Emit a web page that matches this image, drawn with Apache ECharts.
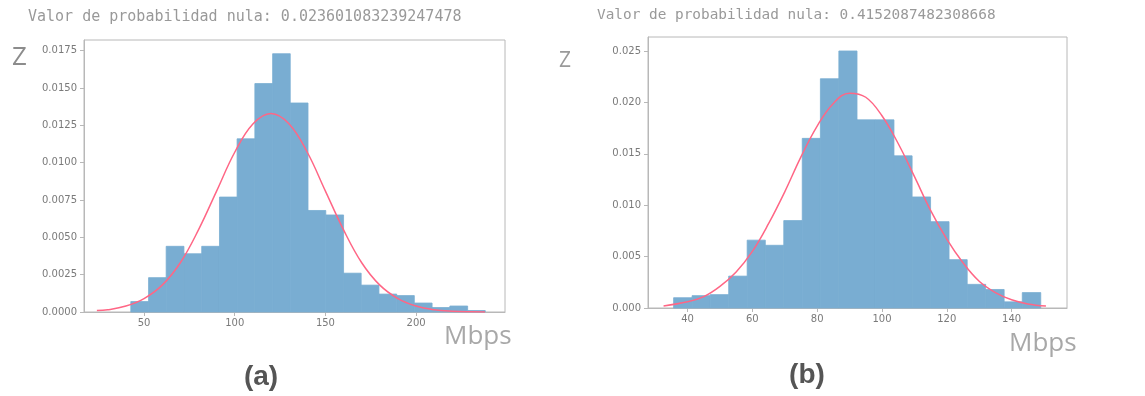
<!DOCTYPE html>
<html>
<head>
<meta charset="utf-8">
<script src="https://cdn.jsdelivr.net/npm/echarts@6/dist/echarts.min.js"></script>
<style>
  html, body { margin: 0; padding: 0; background: #fff; }
  #chart { width: 1145px; height: 396px; }
</style>
</head>
<body>
<div id="chart"></div>
<script>
// histogram (a): bin edges and density heights
var binEdgesA = [42.7, 52.5, 62.2, 72.0, 81.8, 91.6, 101.3, 111.1, 120.9, 130.6, 140.4, 150.2, 160.0, 169.7, 179.5, 189.3, 199.0, 208.8, 218.6, 228.4, 238.1];
var binHeightsA = [0.0007, 0.0023, 0.0044, 0.0039, 0.0044, 0.0077, 0.0116, 0.0153, 0.0173, 0.0140, 0.0068, 0.0065, 0.0026, 0.0018, 0.0012, 0.0011, 0.0006, 0.0003, 0.0004, 0.0001];
// fitted curve (a)
var curveAX = [24, 30, 40, 50, 60, 70, 80, 90, 100, 110, 120, 130, 140, 150, 160, 170, 180, 190, 200, 210, 220, 230, 238];
var curveAY = [0.0001, 0.00015, 0.0004, 0.0009, 0.0018, 0.0033, 0.0055, 0.0081, 0.0107, 0.0126, 0.0133, 0.0126, 0.0107, 0.0081, 0.0055, 0.0033, 0.0018, 0.0009, 0.0004, 0.00015, 0.00005, 0.00001, 0.0];

// histogram (b)
var binEdgesB = [35.7, 41.4, 47.0, 52.7, 58.4, 64.0, 69.7, 75.4, 81.0, 86.7, 92.3, 98.0, 103.7, 109.3, 115.0, 120.7, 126.3, 132.0, 137.7, 143.3, 149.0];
var binHeightsB = [0.0010, 0.0012, 0.0013, 0.0031, 0.0066, 0.0061, 0.0085, 0.0165, 0.0223, 0.0250, 0.0183, 0.0183, 0.0148, 0.0108, 0.0084, 0.0047, 0.0023, 0.0018, 0.0006, 0.0015];
var curveBX = [32.6, 40, 45, 50, 55, 60, 65, 70, 75, 80, 85, 90, 95, 100, 105, 110, 115, 120, 125, 130, 135, 140, 145, 150.6];
var curveBY = [0.0002, 0.0006, 0.0011, 0.0021, 0.0035, 0.0055, 0.0082, 0.0113, 0.0147, 0.0177, 0.0199, 0.0209, 0.0205, 0.0187, 0.0160, 0.0128, 0.0095, 0.0067, 0.0044, 0.0026, 0.0015, 0.0008, 0.0004, 0.0002];

// tick labels
var xTicksA = [50, 100, 150, 200];
var yTicksA = [0, 0.0025, 0.005, 0.0075, 0.01, 0.0125, 0.015, 0.0175];
var xTicksB = [40, 60, 80, 100, 120, 140];
var yTicksB = [0, 0.005, 0.01, 0.015, 0.02, 0.025];

var pvalA = 'Valor de probabilidad nula: 0.023601083239247478';
var pvalB = 'Valor de probabilidad nula: 0.4152087482308668';

function bins(edges, heights) {
    var out = [];
    for (var i = 0; i < heights.length; i++) out.push([edges[i], edges[i + 1], heights[i]]);
    return out;
}
function pairs(xs, ys) {
    return xs.map(function (x, i) { return [x, ys[i]]; });
}

var frame = '#b8b8b8';
var barColor = '#79add2';
var tickFont = { color: '#7a7a7a', fontSize: 10, fontFamily: 'DejaVu Sans' };

function xAxis(idx, min, max, ticks) {
    return {
        type: 'value', gridIndex: idx, min: min, max: max,
        axisLine: { show: true, onZero: false, lineStyle: { color: frame } },
        axisTick: { show: true, length: 4, customValues: ticks, lineStyle: { color: frame } },
        axisLabel: Object.assign({ margin: 6, customValues: ticks }, tickFont),
        splitLine: { show: false }
    };
}
function yAxis(idx, max, ticks, dec) {
    return {
        type: 'value', gridIndex: idx, min: 0, max: max,
        axisLine: { show: true, lineStyle: { color: frame } },
        axisTick: { show: true, length: 4, customValues: ticks, lineStyle: { color: frame } },
        axisLabel: Object.assign({ margin: 7, customValues: ticks,
            formatter: function (v) { return v.toFixed(dec); } }, tickFont),
        splitLine: { show: false }
    };
}

function histSeries(idx, data) {
    return {
        type: 'custom', xAxisIndex: idx, yAxisIndex: idx,
        data: data,
        encode: { x: [0, 1], y: 2 },
        renderItem: function (params, api) {
            var p0 = api.coord([api.value(0), 0]);
            var p1 = api.coord([api.value(1), api.value(2)]);
            // stroke in the fill colour so neighbouring bins have no seam
            return {
                type: 'rect',
                shape: { x: p0[0], y: p1[1], width: p1[0] - p0[0], height: p0[1] - p1[1] },
                style: { fill: barColor, stroke: barColor, lineWidth: 0.8 }
            };
        }
    };
}
function curveSeries(idx, data) {
    return {
        type: 'line', xAxisIndex: idx, yAxisIndex: idx,
        data: data, smooth: 0.4, showSymbol: false,
        lineStyle: { color: '#ff6685', width: 1.5 }, z: 5
    };
}

var chart = echarts.init(document.getElementById('chart'));
chart.setOption({
    animation: false,
    backgroundColor: '#fff',
    grid: [
        { left: 84, top: 40, width: 421, height: 272, show: true, borderColor: frame, borderWidth: 1 },
        { left: 648, top: 37, width: 419, height: 271, show: true, borderColor: frame, borderWidth: 1 }
    ],
    xAxis: [xAxis(0, 16.9, 249, xTicksA), xAxis(1, 27.8, 157.1, xTicksB)],
    yAxis: [yAxis(0, 0.01822, yTicksA, 4), yAxis(1, 0.02636, yTicksB, 3)],
    series: [
        histSeries(0, bins(binEdgesA, binHeightsA)),
        curveSeries(0, pairs(curveAX, curveAY)),
        histSeries(1, bins(binEdgesB, binHeightsB)),
        curveSeries(1, pairs(curveBX, curveBY))
    ],
    graphic: [
        { type: 'text', x: 28, y: 17, style: { text: pvalA, fill: '#999', font: '15px "DejaVu Sans Mono"', verticalAlign: 'middle' } },
        { type: 'text', x: 597, y: 15, style: { text: pvalB, fill: '#999', font: '14.4px "DejaVu Sans Mono"', verticalAlign: 'middle' } },
        { type: 'text', x: 12, y: 58, style: { text: 'Z', fill: '#8c8c8c', font: '26px "Open Sans"', verticalAlign: 'middle' } },
        { type: 'text', x: 559, y: 61, style: { text: 'Z', fill: '#9a9a9a', font: '21px "Open Sans"', verticalAlign: 'middle' } },
        { type: 'text', x: 444, y: 337, style: { text: 'Mbps', fill: '#a8a8a8', font: '26px "Open Sans"', verticalAlign: 'middle' } },
        { type: 'text', x: 1009, y: 344, style: { text: 'Mbps', fill: '#a8a8a8', font: '26px "Open Sans"', verticalAlign: 'middle' } },
        { type: 'text', x: 261, y: 377, style: { text: '(a)', fill: '#555', font: 'bold 28px "Liberation Sans"', align: 'center', verticalAlign: 'middle' } },
        { type: 'text', x: 807, y: 375, style: { text: '(b)', fill: '#555', font: 'bold 28px "Liberation Sans"', align: 'center', verticalAlign: 'middle' } }
    ]
});
</script>
</body>
</html>
